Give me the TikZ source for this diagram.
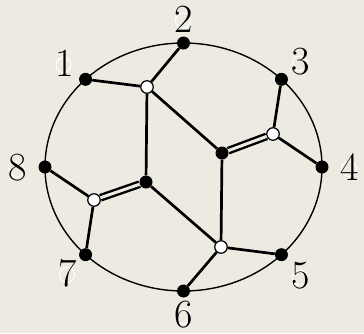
\documentclass[tikz,border=0pt]{standalone}
\usepackage{xcolor}
\usepackage{tikz}
\definecolor{paper}{RGB}{237,235,225}
\tikzset{
  vb/.style={circle,fill=black,inner sep=0pt,minimum size=13pt},
  vw/.style={circle,draw=black,fill=white,line width=1.2pt,inner sep=0pt,minimum size=12.5pt},
  edge/.style={line width=2.7pt},
  dbl/.style={line width=2.4pt,double=paper,double distance=3pt},
  num/.style={font=\fontsize{40}{40}\selectfont,inner sep=0pt},
  ring/.style={draw=white,line width=1pt},
}
\begin{document}
\begin{tikzpicture}[x=1pt,y=-1pt]
\fill[paper] (0,0) rectangle (364,333);
\useasboundingbox (0,0) rectangle (364,333);
\draw[line width=1.4pt] (183.5,167) ellipse (138.5pt and 124pt);
% outer vertices and their numbers
\foreach \i/\a in {1/-135,2/-90,3/-45,4/0,5/45,6/90,7/135,8/180}
  \node[vb] (v\i) at ([shift={(183.5,167)}]\a:138.5 and 124) {};
\foreach \i/\x/\y in {1/64.5/63.5,2/184/19,3/301/62,4/350/167.5,5/301/276,6/184/315,7/68/273.5,8/18/168}{
  \draw[ring] (\x-1,\y+1.5) circle (7.5pt);
  \node[num] (n\i) at (\x,\y) {\i};
}
% inner vertices
\node[vw] (a) at (147,87) {};
\node[vb] (b) at (146,182) {};
\node[vb] (c) at (222,153) {};
\node[vw] (d) at (273,134) {};
\node[vw] (e) at (221,247) {};
\node[vw] (f) at (94,200) {};
% edges
\draw[edge] (v1) -- (a) -- (v2);
\draw[edge] (a) -- (b);
\draw[edge] (a) -- (c);
\draw[dbl] (c) -- (d);
\draw[edge] (v3) -- (d) -- (v4);
\draw[edge] (c) -- (e);
\draw[edge] (b) -- (e);
\draw[edge] (v5) -- (e) -- (v6);
\draw[dbl] (b) -- (f);
\draw[edge] (v8) -- (f) -- (v7);
\end{tikzpicture}
\end{document}
